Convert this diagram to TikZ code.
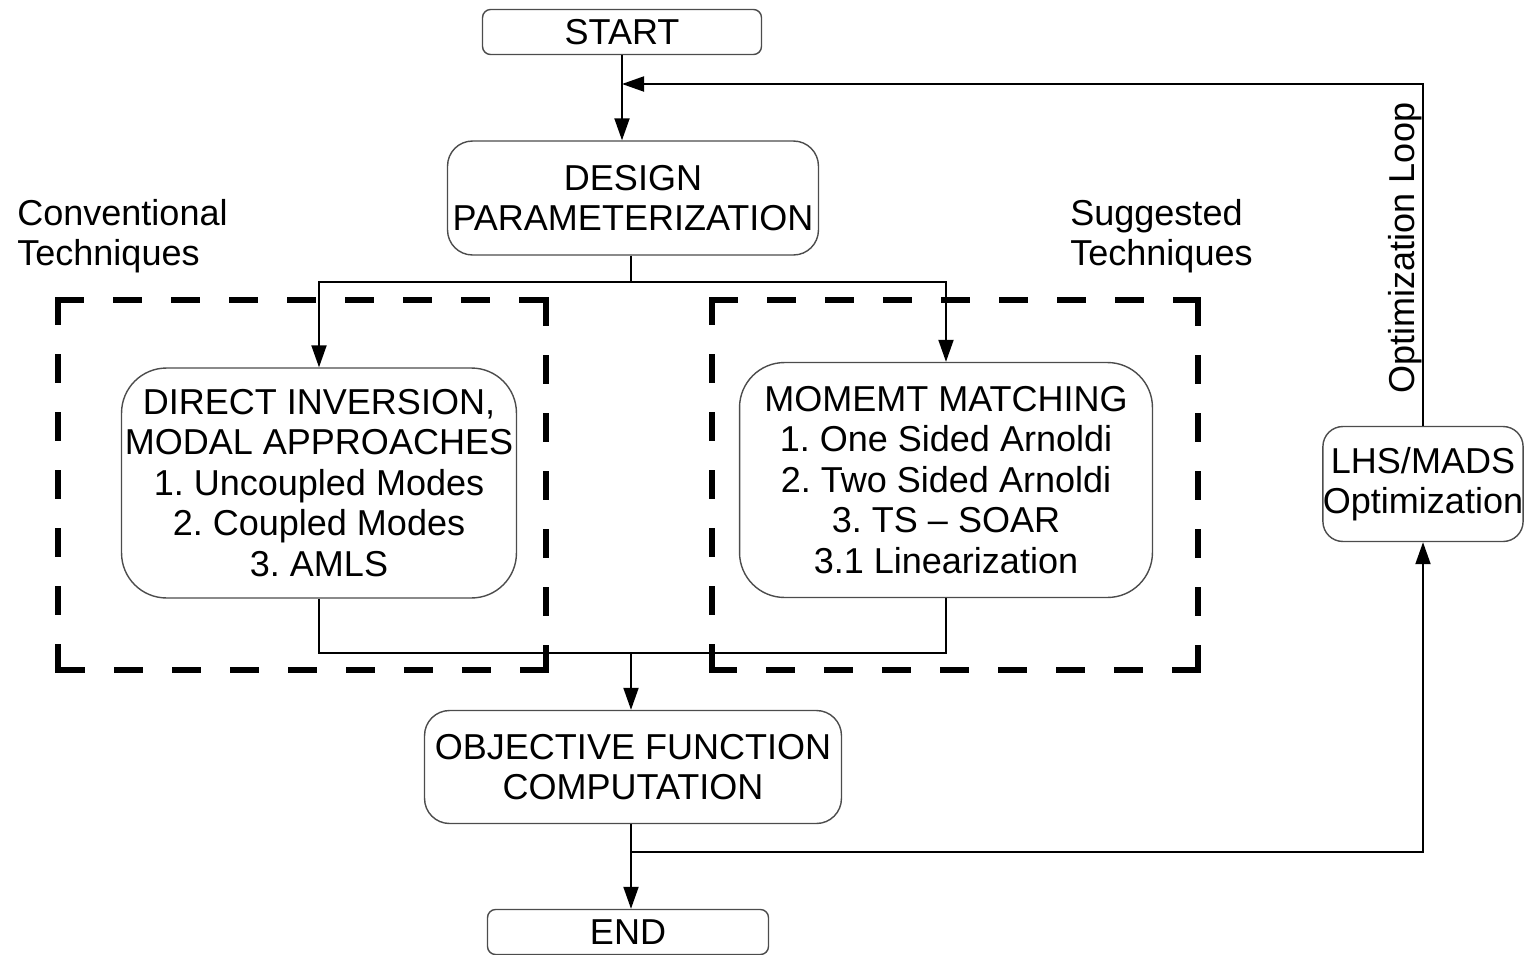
\documentclass[tikz,border=0pt]{standalone}
\usepackage{fontspec}
\setmainfont{Liberation Sans}
\usetikzlibrary{arrows.meta}
\frenchspacing
\tikzset{
  blk/.style={draw=black!70, line width=0.8pt, align=center, inner sep=0pt,
    font=\fontsize{20.5}{23}\selectfont},
  note/.style={align=left, inner sep=0pt, font=\fontsize{20.5}{23}\selectfont},
  wire/.style={line width=1.1pt},
  arr/.style={line width=1.1pt, -{Triangle[length=0.44cm,width=0.3cm]}},
  group/.style={line width=3.4pt, line cap=rect, dash pattern=on 0.46cm off 0.7cm}
}
\begin{document}
\begin{tikzpicture}[x=0.02cm, y=-0.02cm]
  \useasboundingbox (0,0) rectangle (1529,954);
  \draw[group] (58,300) -- (546,300) (546,300) -- (546,670)
    (546,670) -- (58,670) (58,670) -- (58,300);
  \draw[group] (712,300) -- (1198,300) (1198,300) -- (1198,670)
    (1198,670) -- (712,670) (712,670) -- (712,300);
  \draw
    (622,32) node[blk, minimum width=5.58cm, minimum height=0.9cm, rounded corners=0.16cm] (start) {START}
    (633,198) node[blk, minimum width=7.42cm, minimum height=2.28cm, rounded corners=0.5cm] (design) {DESIGN\\PARAMETERIZATION}
    (319,483) node[blk, minimum width=7.9cm, minimum height=4.6cm, rounded corners=0.9cm] (direct) {DIRECT INVERSION,\\MODAL APPROACHES\\1. Uncoupled Modes\\2. Coupled Modes\\3. AMLS}
    (946,480) node[blk, minimum width=8.26cm, minimum height=4.7cm, rounded corners=0.9cm] (moment) {MOMEMT MATCHING\\1. One Sided Arnoldi\\2. Two Sided Arnoldi\\3. TS -- SOAR\\3.1 Linearization}
    (633,767) node[blk, minimum width=8.34cm, minimum height=2.26cm, rounded corners=0.5cm] (objective) {OBJECTIVE FUNCTION\\COMPUTATION}
    (628,932) node[blk, minimum width=5.62cm, minimum height=0.9cm, rounded corners=0.16cm] (stop) {END}
    (1423,484) node[blk, minimum width=4cm, minimum height=2.3cm, rounded corners=0.4cm] (lhs) {LHS/MADS\\Optimization}
    (17,236) node[note, anchor=west] (conv) {Conventional\\Techniques}
    (1070,236) node[note, anchor=west] (sugg) {Suggested\\Techniques}
    (1414,248) node[note, rotate=90, anchor=base] (loop) {Optimization Loop};
  \coordinate (split) at (631,282);
  \coordinate (merge) at (631,653);
  \coordinate (fork) at (631,852);
  \coordinate (loopin) at (622,84);
  \draw[arr] (start) -- (start |- design.north);
  \draw[wire] (split |- design.south) -- (split);
  \draw[arr] (split) -| (direct);
  \draw[arr] (split) -| (moment);
  \draw[wire] (direct) |- (merge);
  \draw[wire] (moment) |- (merge);
  \draw[arr] (merge) -- (merge |- objective.north);
  \draw[arr] (fork |- objective.south) -- (fork |- stop.north);
  \draw[arr] (fork) -| (lhs);
  \draw[arr] (lhs) |- (loopin);
\end{tikzpicture}
\end{document}
